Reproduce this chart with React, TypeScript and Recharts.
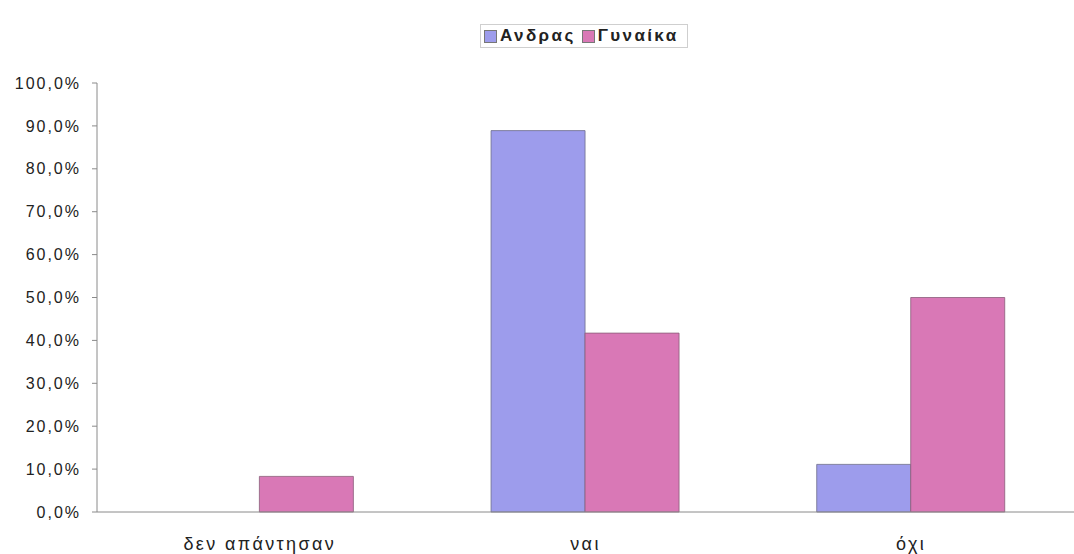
import React from 'react';
import { BarChart, Bar, XAxis, YAxis, Legend } from 'recharts';

const categories = ['δεν απάντησαν', 'ναι', 'όχι'];
const menValues = [0, 88.9, 11.1];
const womenValues = [8.3, 41.7, 50.0];
const yTicks = [0, 10, 20, 30, 40, 50, 60, 70, 80, 90, 100];

const MEN = 'Ανδρας';
const WOMEN = 'Γυναίκα';
const MEN_COLOR = '#9d9cec';
const WOMEN_COLOR = '#d978b6';

const data = categories.map((c, i) => ({
  name: c,
  [MEN]: menValues[i],
  [WOMEN]: womenValues[i],
}));

const pct = (v: number) => v.toFixed(1).replace('.', ',') + '%';

const LegendBox = () => (
  <div
    style={{
      display: 'flex',
      alignItems: 'center',
      border: '1px solid #cfcfcf',
      padding: '1px 8px 1px 3px',
      fontFamily: 'Liberation Sans, Arial, sans-serif',
      fontWeight: 'bold',
      fontSize: 17,
      letterSpacing: 2.4,
      color: '#222',
      height: 20,
      boxSizing: 'content-box',
    }}
  >
    {[
      [MEN, MEN_COLOR],
      [WOMEN, WOMEN_COLOR],
    ].map(([label, color], i) => (
      <span key={label} style={{ display: 'flex', alignItems: 'center', marginRight: i === 0 ? 6 : 0 }}>
        <span
          style={{
            display: 'inline-block',
            width: 11,
            height: 11,
            background: color,
            border: '1px solid #777',
            marginRight: 3,
          }}
        />
        {label}
      </span>
    ))}
  </div>
);

export default function App() {
  return (
    <div style={{ position: 'fixed', left: 0, top: 0, width: 1074, height: 554, background: '#fff' }}>
      <BarChart
        width={1074}
        height={554}
        data={data}
        margin={{ top: 59, right: 0, left: 0, bottom: 10 }}
        barCategoryGap="21%"
        barGap={0}
      >
        <XAxis
          dataKey="name"
          height={32}
          axisLine={{ stroke: '#8a8a8a' }}
          tickLine={false}
          tick={{
            fill: '#222',
            fontSize: 18,
            fontFamily: 'Liberation Sans, Arial, sans-serif',
            letterSpacing: 2.4,
          }}
          tickMargin={19}
        />
        <YAxis
          width={97}
          domain={[0, 100]}
          ticks={yTicks}
          interval={0}
          tickFormatter={pct}
          axisLine={{ stroke: '#8a8a8a' }}
          tickLine={{ stroke: '#8a8a8a' }}
          tickSize={5}
          tickMargin={11}
          tick={{
            fill: '#222',
            fontSize: 16,
            fontFamily: 'Liberation Sans, Arial, sans-serif',
            letterSpacing: 2,
          }}
        />
        <Legend
          verticalAlign="top"
          content={<LegendBox />}
          wrapperStyle={{ top: 24, left: 480, width: 'auto' }}
        />
        <Bar dataKey={MEN} fill={MEN_COLOR} stroke="#6d6d8a" strokeWidth={0.8} isAnimationActive={false} />
        <Bar dataKey={WOMEN} fill={WOMEN_COLOR} stroke="#8a5d7a" strokeWidth={0.8} isAnimationActive={false} />
      </BarChart>
    </div>
  );
}
